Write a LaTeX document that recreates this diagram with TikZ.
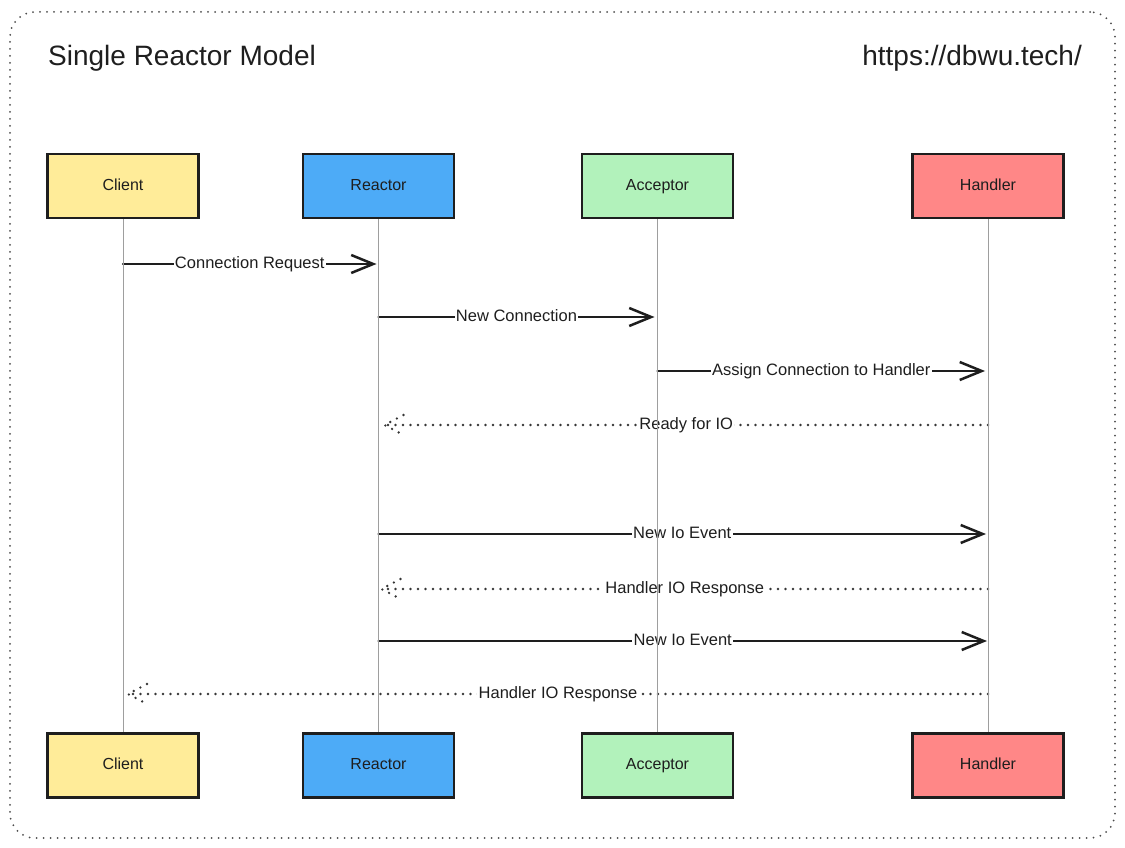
\documentclass[tikz,border=0pt]{standalone}
\usepackage{fontspec}
\setmainfont{Liberation Sans}
\usetikzlibrary{arrows.meta}
\definecolor{cyellow}{HTML}{FFEC99}
\definecolor{cblue}{HTML}{4DABF7}
\definecolor{cgreen}{HTML}{B2F2BB}
\definecolor{cred}{HTML}{FF8787}
\definecolor{ink}{HTML}{1E1E1E}
\begin{document}
\begin{tikzpicture}[x=1pt,y=-1pt,
  actor/.style={draw=ink, line width=2.3pt, minimum width=151pt, minimum height=64pt,
    inner sep=0pt, text height=11pt, text depth=3pt,
    font=\fontsize{16}{19}\selectfont, text=ink},
  life/.style={draw=black!38, line width=1pt},
  msg/.style={draw=ink, line width=2.5pt, line cap=round, line join=round,
    -{Straight Barb[length=22pt,width=18pt]}},
  reply/.style={draw=ink!90, line width=2.6pt, line cap=round, line join=round,
    dash pattern=on 0pt off 7.5pt},
  lbl/.style={fill=white, inner sep=1.2pt, text height=11pt, text depth=3pt,
    font=\fontsize{16.5}{19}\selectfont, text=ink},
  frame/.style={draw=black!70, line width=2pt, line cap=round,
    dash pattern=on 0pt off 7pt, rounded corners=25pt,
    minimum width=1105pt, minimum height=826pt, inner sep=0pt},
  title/.style={inner sep=0pt, font=\fontsize{28}{32}\selectfont, text=ink}
]
\useasboundingbox (0,0) rectangle (1125,848);
\node[frame] (frame) at (562.5,425) {};
\node[title, anchor=base west] (ttl) at (48,66) {Single Reactor Model};
\node[title, anchor=base east] (url) at (1082,66) {https://dbwu.tech/};

% actors
\node[actor, fill=cyellow] (cl) at (123,186) {Client};
\node[actor, fill=cblue]   (re) at (378.5,186) {Reactor};
\node[actor, fill=cgreen]  (ac) at (657.5,186) {Acceptor};
\node[actor, fill=cred]    (ha) at (988,186) {Handler};
\node[actor, fill=cyellow] (cl2) at (123,765.5) {Client};
\node[actor, fill=cblue]   (re2) at (378.5,765.5) {Reactor};
\node[actor, fill=cgreen]  (ac2) at (657.5,765.5) {Acceptor};
\node[actor, fill=cred]    (ha2) at (988,765.5) {Handler};

% messages
\draw[msg] (cl |- 0,264) -- node[lbl]{Connection Request} ([xshift=-2pt]re |- 0,264);
\draw[msg] (re |- 0,317) -- node[lbl]{New Connection} ([xshift=-3pt]ac |- 0,317);
\draw[msg] (ac |- 0,371) -- node[lbl]{Assign Connection to Handler} ([xshift=-3pt]ha |- 0,371);

\draw[reply] (ha |- 0,425) -- node[lbl]{Ready for IO} ([xshift=6pt]re |- 0,425);
\draw[reply] ([xshift=25pt,yshift=10pt]re |- 0,425) -- ([xshift=6pt]re |- 0,425) -- ([xshift=25pt,yshift=-10pt]re |- 0,425);

\draw[msg] (re |- 0,534) -- node[lbl]{New Io Event} ([xshift=-2pt]ha |- 0,534);

\draw[reply] (ha |- 0,589) -- node[lbl]{Handler IO Response} ([xshift=3pt]re |- 0,589);
\draw[reply] ([xshift=22pt,yshift=10pt]re |- 0,589) -- ([xshift=3pt]re |- 0,589) -- ([xshift=22pt,yshift=-10pt]re |- 0,589);

\draw[msg] (re |- 0,641) -- node[lbl]{New Io Event} ([xshift=-1pt]ha |- 0,641);

\draw[reply] (ha |- 0,694) -- node[lbl]{Handler IO Response} ([xshift=5pt]cl |- 0,694);
\draw[reply] ([xshift=24pt,yshift=10pt]cl |- 0,694) -- ([xshift=5pt]cl |- 0,694) -- ([xshift=24pt,yshift=-10pt]cl |- 0,694);

% lifelines
\draw[life] (cl.south) -- (cl2.north);
\draw[life] (re.south) -- (re2.north);
\draw[life] (ac.south) -- (ac2.north);
\draw[life] (ha.south) -- (ha2.north);
\end{tikzpicture}
\end{document}
